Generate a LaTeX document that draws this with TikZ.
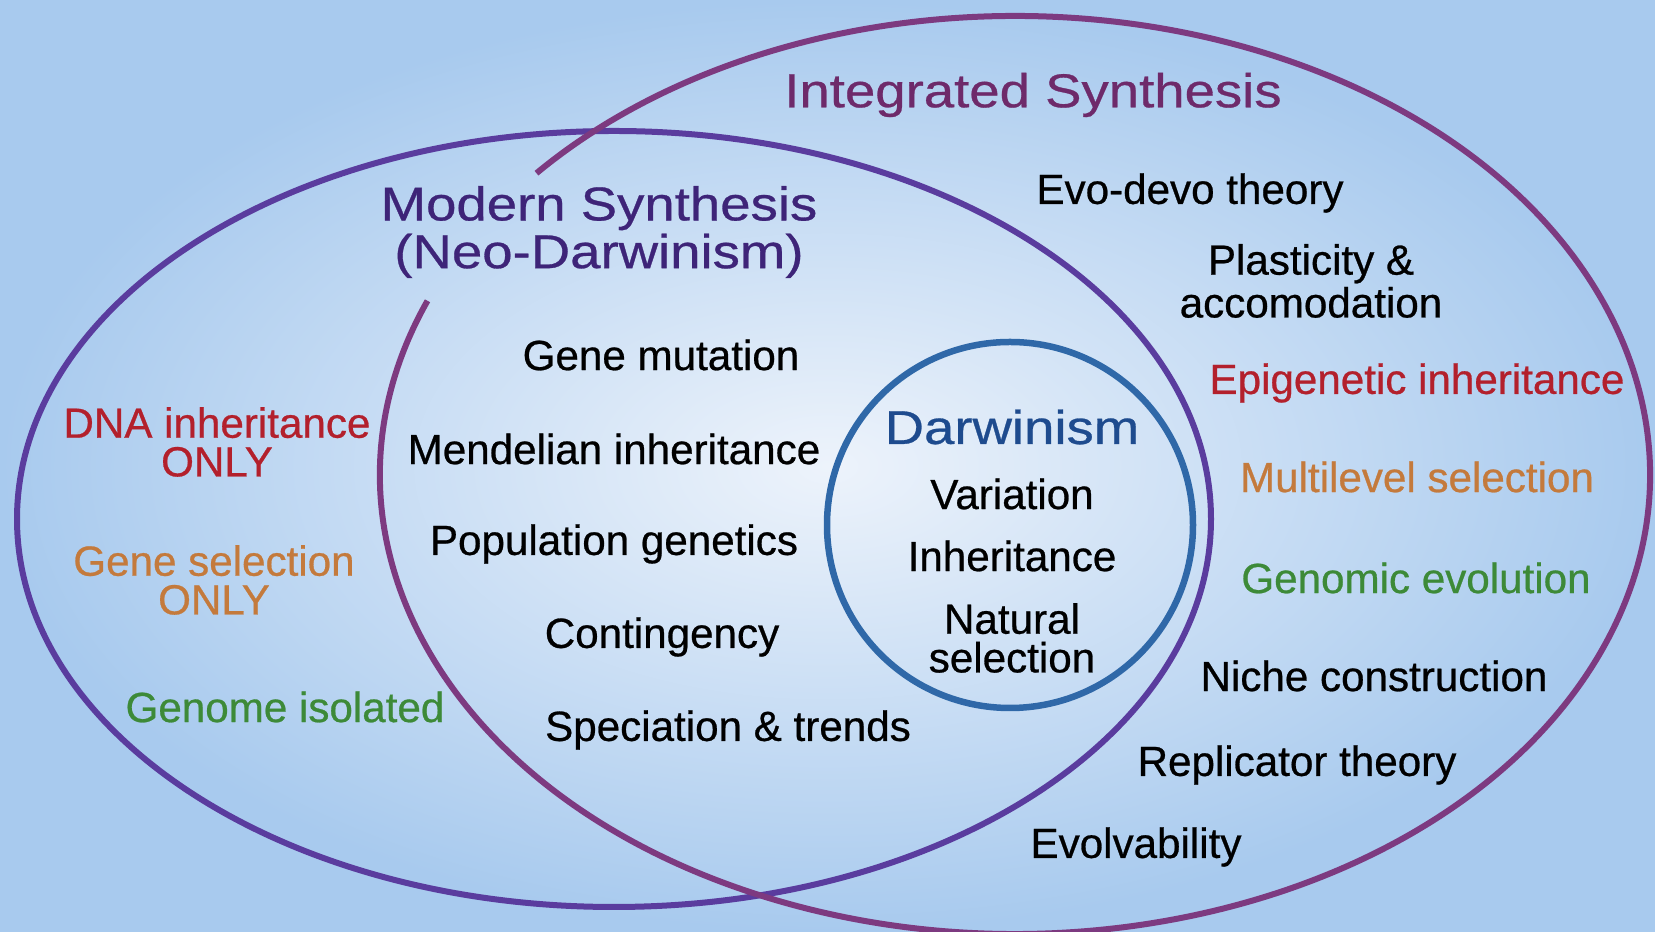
\documentclass[tikz,border=0pt]{standalone}
\usepackage{fontspec}
\setmainfont[FakeBold=0.6]{Liberation Sans}
\newfontfamily\titlefont[FakeStretch=1.15, FakeBold=0.6]{Liberation Sans}
\usetikzlibrary{positioning}

\definecolor{skyin}{HTML}{EDF3FB}
\definecolor{skyout}{HTML}{A8CAEE}
\definecolor{modline}{HTML}{5A3C9E}
\definecolor{intline}{HTML}{7D3A80}
\definecolor{darline}{HTML}{2F68A8}
\definecolor{modtext}{HTML}{3E2478}
\definecolor{inttext}{HTML}{6E2A6A}
\definecolor{dartext}{HTML}{1E4B8E}
\definecolor{redtext}{HTML}{B3202C}
\definecolor{orgtext}{HTML}{C47A3C}
\definecolor{grntext}{HTML}{3D8A38}

\begin{document}
\begin{tikzpicture}[x=0.1mm, y=0.1mm, node distance=6.2mm]
\tikzstyle{every node}=[font=\fontsize{12}{11}\selectfont, align=center, inner sep=0pt, text=black]
\tikzstyle{title}=[font=\titlefont\fontsize{13.5}{12}\selectfont]
\tikzstyle{ring}=[line width=0.6mm]

% sky
\shade[inner color=skyin, outer color=skyout] (0,0) rectangle (1655,932);
\useasboundingbox (0,0) rectangle (1655,932);

% the three sets
\draw[ring, modline] (614,413) ellipse [x radius=597, y radius=388];
\draw[ring, intline] (427.5,631.2) arc [start angle=157.7, end angle=498.9, x radius=635, y radius=459];
\draw[ring, darline, line width=0.65mm] (1010,407) circle [radius=183];

% headings
\node[title, text=inttext] (integ)  at (1033,837) {Integrated Synthesis};
\node[title, text=modtext] (modern) at (599,700)  {Modern Synthesis\\(Neo-Darwinism)};
\node[title, text=dartext] (darw)   at (1012,505) {Darwinism};

% Darwinism
\node (var) [below of=darw, node distance=6.7mm] {Variation};
\node (inh) [below of=var] {Inheritance};
\node (nat) [below of=inh, node distance=8.2mm] {Natural\\selection};

% Modern Synthesis
\node (mut)  at (661,577) {Gene mutation};
\node (mend) at (614,483) {Mendelian inheritance};
\node (pop)  at (614,388) {Population genetics};
\node (cont) at (662,295) {Contingency};
\node (spec) at (728,202) {Speciation \& trends};

% Modern Synthesis only
\node[text=redtext] (dna)  at (217,490) {DNA inheritance\\ONLY};
\node[text=orgtext] (gsel) at (214,352) {Gene selection\\ONLY};
\node[text=grntext] (giso) at (285,225) {Genome isolated};

% Integrated Synthesis
\node (evodevo) at (1190,739) {Evo-devo theory};
\node (plast)   at (1311,651) {Plasticity \&\\accomodation};
\node[text=redtext] (epi)  at (1417,549) {Epigenetic inheritance};
\node[text=orgtext] (mls)  at (1417,455) {Multilevel selection};
\node[text=grntext] (gevo) at (1416,354) {Genomic evolution};
\node (niche) at (1374,256) {Niche construction};
\node (repl)  at (1297,167) {Replicator theory};
\node (evolv) at (1136,85)  {Evolvability};
\end{tikzpicture}
\end{document}
